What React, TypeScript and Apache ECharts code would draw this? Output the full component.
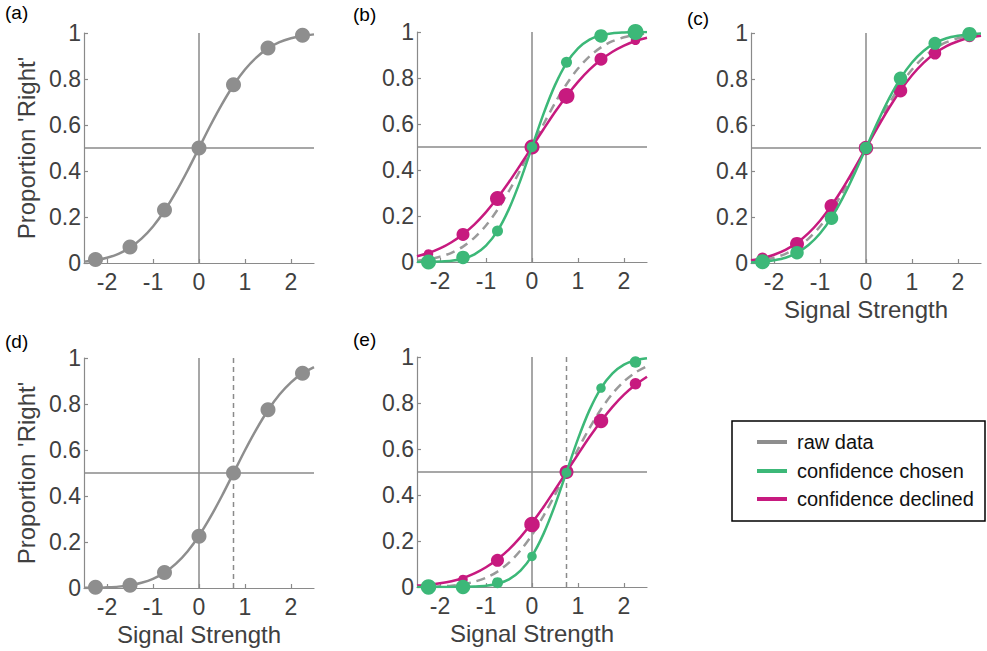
import React, { useEffect, useRef } from "react";
import * as echarts from "echarts";

// ---------- data ----------
const signalLevels = [-2.25, -1.5, -0.75, 0, 0.75, 1.5, 2.25];
const curveGrid = [-2.5, -2.25, -2, -1.75, -1.5, -1.25, -1, -0.75, -0.5, -0.25, 0, 0.25, 0.5, 0.75, 1, 1.25, 1.5, 1.75, 2, 2.25, 2.5];
const xTickValues = [-2, -1, 0, 1, 2];
const yTickValues = [0, 0.2, 0.4, 0.6, 0.8, 1];
const panelLabels = ["(a)", "(b)", "(c)", "(d)", "(e)"];
const legendNames = ["raw data", "confidence chosen", "confidence declined"];
const yAxisTitle = "Proportion 'Right'";
const xAxisTitle = "Signal Strength";
const chanceLevel = 0.5;
const unbiasedCriterion = 0;
const shiftedCriterion = 0.75;

// (a) unbiased observer, raw data
const rawA = [0.015, 0.07, 0.23, 0.5, 0.775, 0.935, 0.99];
const fitRawA = [0.006, 0.012, 0.023, 0.04, 0.067, 0.106, 0.159, 0.227, 0.309, 0.401, 0.5, 0.599, 0.691, 0.773, 0.841, 0.894, 0.933, 0.96, 0.977, 0.988, 0.994];

// (b) confidence split
const chosenB = [0.0, 0.02, 0.135, 0.5, 0.868, 0.983, 1.0];
const declinedB = [0.035, 0.12, 0.276, 0.5, 0.722, 0.882, 0.964];
const fitChosenB = [0.0, 0.001, 0.002, 0.005, 0.014, 0.033, 0.071, 0.135, 0.231, 0.356, 0.5, 0.644, 0.769, 0.865, 0.929, 0.967, 0.986, 0.995, 0.998, 0.9995, 1.0];
const fitDeclinedB = [0.025, 0.039, 0.059, 0.086, 0.121, 0.164, 0.217, 0.279, 0.348, 0.423, 0.5, 0.577, 0.652, 0.721, 0.783, 0.836, 0.879, 0.914, 0.941, 0.961, 0.975];

// (c) confidence split, small difference
const chosenC = [0.005, 0.045, 0.195, 0.5, 0.803, 0.955, 0.995];
const declinedC = [0.022, 0.083, 0.248, 0.5, 0.749, 0.912, 0.985];
const fitChosenC = [0.002, 0.005, 0.012, 0.023, 0.044, 0.078, 0.128, 0.197, 0.285, 0.388, 0.5, 0.612, 0.715, 0.803, 0.872, 0.922, 0.956, 0.977, 0.988, 0.995, 0.998];
const fitDeclinedC = [0.012, 0.021, 0.036, 0.057, 0.088, 0.13, 0.184, 0.25, 0.326, 0.411, 0.5, 0.589, 0.674, 0.75, 0.816, 0.87, 0.912, 0.943, 0.964, 0.979, 0.988];

// (d) biased observer, raw data
const rawD = [0.003, 0.012, 0.067, 0.225, 0.5, 0.775, 0.934];
const fitRawD = [0.001, 0.001, 0.003, 0.006, 0.012, 0.023, 0.04, 0.067, 0.106, 0.159, 0.227, 0.309, 0.401, 0.5, 0.599, 0.691, 0.773, 0.841, 0.894, 0.933, 0.96];

// (e) biased observer, confidence split
const chosenE = [0.0, 0.0, 0.019, 0.133, 0.497, 0.865, 0.978];
const declinedE = [0.005, 0.033, 0.116, 0.272, 0.5, 0.722, 0.884];
const fitChosenE = [0.0, 0.0, 0.0, 0.0, 0.001, 0.002, 0.005, 0.014, 0.033, 0.071, 0.135, 0.231, 0.356, 0.5, 0.644, 0.769, 0.865, 0.929, 0.967, 0.986, 0.995];
const fitDeclinedE = [0.006, 0.01, 0.016, 0.025, 0.039, 0.059, 0.086, 0.121, 0.164, 0.217, 0.279, 0.348, 0.423, 0.5, 0.577, 0.652, 0.721, 0.783, 0.836, 0.879, 0.914];

// marker diameters (proportional to trial counts)
const sizeRaw = [15, 15, 15, 15, 15, 15, 15];
const sizeChosenB = [15, 13.5, 11, 10.5, 11, 13.5, 16];
const sizeDeclinedB = [9.5, 13, 15, 15, 16, 13, 9.5];
const sizeChosenC = [15, 13.5, 13.5, 12.5, 13.5, 13, 14.5];
const sizeDeclinedC = [11, 14, 14, 14.5, 13.5, 12.5, 11.5];
const sizeChosenE = [15.5, 14.5, 11, 9.5, 10, 9.5, 11.5];
const sizeDeclinedE = [9.5, 9.5, 13, 15.5, 14, 14.5, 11.5];

// ---------- styles ----------
const FONT = "'Liberation Sans', Arial, Helvetica, sans-serif";
const GRAY = "#8e8e8e";
const AXIS_GRAY = "#8a8a8a";
const GREEN = "#3cb878";
const MAGENTA = "#c71a7f";
const TEXT = "#404040";

const grids = [
  { left: 84, top: 33, width: 230, height: 230 },
  { left: 417, top: 32, width: 230, height: 230 },
  { left: 751, top: 33, width: 230, height: 230 },
  { left: 84, top: 358, width: 230, height: 230 },
  { left: 417, top: 357, width: 230, height: 230 },
];
const labelPos = [
  { x: 5, y: 13 },
  { x: 353, y: 15 },
  { x: 687, y: 19 },
  { x: 5, y: 342 },
  { x: 353, y: 340 },
];

type Panel = {
  raw?: number[];
  fitRaw: number[];
  rawDashed: boolean;
  chosen?: number[];
  fitChosen?: number[];
  declined?: number[];
  fitDeclined?: number[];
  sizeChosen?: number[];
  sizeDeclined?: number[];
  criterion?: number;
  yTitle: boolean;
  xTitle: boolean;
};

const panels: Panel[] = [
  { raw: rawA, fitRaw: fitRawA, rawDashed: false, yTitle: true, xTitle: false },
  { fitRaw: fitRawA, rawDashed: true, chosen: chosenB, fitChosen: fitChosenB, declined: declinedB, fitDeclined: fitDeclinedB, sizeChosen: sizeChosenB, sizeDeclined: sizeDeclinedB, yTitle: false, xTitle: false },
  { fitRaw: fitRawA, rawDashed: true, chosen: chosenC, fitChosen: fitChosenC, declined: declinedC, fitDeclined: fitDeclinedC, sizeChosen: sizeChosenC, sizeDeclined: sizeDeclinedC, yTitle: false, xTitle: true },
  { raw: rawD, fitRaw: fitRawD, rawDashed: false, criterion: shiftedCriterion, yTitle: true, xTitle: true },
  { fitRaw: fitRawD, rawDashed: true, chosen: chosenE, fitChosen: fitChosenE, declined: declinedE, fitDeclined: fitDeclinedE, sizeChosen: sizeChosenE, sizeDeclined: sizeDeclinedE, criterion: shiftedCriterion, yTitle: false, xTitle: true },
];

const pairs = (xs: number[], ys: number[]) => xs.map((x, i) => [x, ys[i]]);

function buildOption() {
  const xAxis: any[] = [];
  const yAxis: any[] = [];
  const series: any[] = [];
  const graphic: any[] = [];

  panels.forEach((p, i) => {
    xAxis.push({
      type: "value",
      gridIndex: i,
      min: -2.5,
      max: 2.5,
      name: p.xTitle ? xAxisTitle : "",
      nameLocation: "middle",
      nameGap: 34,
      nameTextStyle: { fontSize: 24, color: TEXT, fontFamily: FONT },
      axisLine: { show: true, onZero: false, lineStyle: { color: AXIS_GRAY, width: 1.2 } },
      axisTick: { show: true, inside: true, length: 4, customValues: xTickValues, lineStyle: { color: AXIS_GRAY, width: 1.2 } },
      axisLabel: { customValues: xTickValues, fontSize: 23, color: TEXT, margin: 7, fontFamily: FONT },
      splitLine: { show: false },
    });
    yAxis.push({
      type: "value",
      gridIndex: i,
      min: 0,
      max: 1,
      name: p.yTitle ? yAxisTitle : "",
      nameLocation: "middle",
      nameGap: 46,
      nameTextStyle: { fontSize: 24, color: TEXT, fontFamily: FONT },
      axisLine: { show: true, onZero: false, lineStyle: { color: AXIS_GRAY, width: 1.2 } },
      axisTick: { show: true, inside: true, length: 4, customValues: yTickValues, lineStyle: { color: AXIS_GRAY, width: 1.2 } },
      axisLabel: { customValues: yTickValues, fontSize: 23, color: TEXT, margin: 3, fontFamily: FONT },
      splitLine: { show: false },
    });

    const base = { xAxisIndex: i, yAxisIndex: i, silent: true, animation: false };
    // reference lines
    series.push({
      ...base, type: "line", symbol: "none",
      data: [[-2.5, chanceLevel], [2.5, chanceLevel]],
      lineStyle: { color: AXIS_GRAY, width: 1.5 }, z: 1,
    });
    series.push({
      ...base, type: "line", symbol: "none",
      data: [[unbiasedCriterion, 0], [unbiasedCriterion, 1]],
      lineStyle: { color: AXIS_GRAY, width: 1.5 }, z: 1,
    });
    if (p.criterion !== undefined) {
      series.push({
        ...base, type: "line", symbol: "none",
        data: [[p.criterion, 0], [p.criterion, 1]],
        lineStyle: { color: AXIS_GRAY, width: 1.5, type: [5, 4] }, z: 1,
      });
    }
    // raw fit
    series.push({
      ...base, type: "line", symbol: "none", smooth: 0.3,
      name: "raw data",
      data: pairs(curveGrid, p.fitRaw),
      lineStyle: p.rawDashed
        ? { color: "#9a9a9a", width: 2.5, type: [9, 6] }
        : { color: GRAY, width: 2.5 },
      z: 2,
    });
    if (p.raw) {
      series.push({
        ...base, type: "scatter", clip: false,
        data: pairs(signalLevels, p.raw),
        symbolSize: (_v: any, prm: any) => sizeRaw[prm.dataIndex],
        itemStyle: { color: GRAY, opacity: 1 }, z: 3,
      });
    }
    if (p.fitDeclined && p.declined && p.sizeDeclined) {
      const sz = p.sizeDeclined;
      series.push({
        ...base, type: "line", symbol: "none", smooth: 0.3,
        data: pairs(curveGrid, p.fitDeclined),
        lineStyle: { color: MAGENTA, width: 2.5 }, z: 3,
      });
      series.push({
        ...base, type: "scatter", clip: false,
        data: pairs(signalLevels, p.declined),
        symbolSize: (_v: any, prm: any) => sz[prm.dataIndex],
        itemStyle: { color: MAGENTA, opacity: 1 }, z: 4,
      });
    }
    if (p.fitChosen && p.chosen && p.sizeChosen) {
      const sz = p.sizeChosen;
      series.push({
        ...base, type: "line", symbol: "none", smooth: 0.3,
        data: pairs(curveGrid, p.fitChosen),
        lineStyle: { color: GREEN, width: 2.5 }, z: 5,
      });
      series.push({
        ...base, type: "scatter", clip: false,
        data: pairs(signalLevels, p.chosen),
        symbolSize: (_v: any, prm: any) => sz[prm.dataIndex],
        itemStyle: { color: GREEN, opacity: 1 }, z: 6,
      });
    }

    graphic.push({
      type: "text",
      left: labelPos[i].x,
      top: labelPos[i].y - 10,
      style: { text: panelLabels[i], fontSize: 19, fill: "#000", fontFamily: FONT },
    });
  });

  // legend box
  const legendColors = [GRAY, GREEN, MAGENTA];
  const rowsY = [442, 471, 499];
  graphic.push({
    type: "rect",
    shape: { x: 732, y: 421, width: 253, height: 100 },
    style: { fill: "#fff", stroke: "#000", lineWidth: 1.5 },
    z: 10,
  });
  legendNames.forEach((n, k) => {
    graphic.push({
      type: "line",
      shape: { x1: 757, y1: rowsY[k], x2: 787, y2: rowsY[k] },
      style: { stroke: legendColors[k], lineWidth: 4 },
      z: 11,
    });
    graphic.push({
      type: "text",
      x: 797,
      y: rowsY[k],
      style: { text: n, fontSize: 20, fill: "#111", fontFamily: FONT, verticalAlign: "middle", align: "left" },
      z: 11,
    });
  });

  return {
    animation: false,
    backgroundColor: "#fff",
    textStyle: { fontFamily: FONT },
    grid: grids.map((g) => ({ ...g, containLabel: false })),
    xAxis,
    yAxis,
    series,
    graphic,
  };
}

export default function App() {
  const ref = useRef<HTMLDivElement>(null);
  useEffect(() => {
    if (!ref.current) return;
    const chart = echarts.init(ref.current, undefined, { renderer: "svg" });
    chart.setOption(buildOption() as any);
    return () => chart.dispose();
  }, []);
  return (
    <div
      ref={ref}
      style={{ position: "fixed", left: 0, top: 0, width: 987, height: 651, background: "#fff" }}
    />
  );
}
